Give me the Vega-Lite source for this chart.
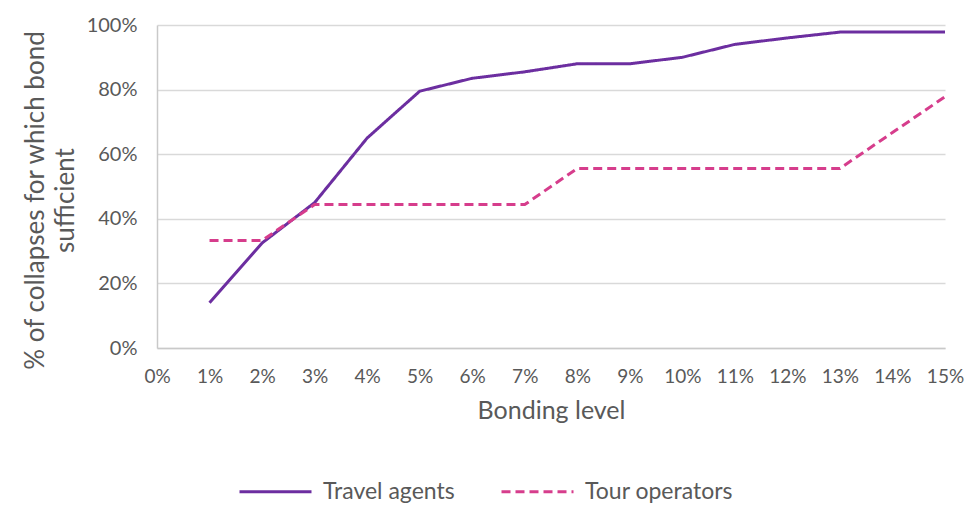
{
  "$schema": "https://vega.github.io/schema/vega-lite/v6.json",
  "width": 788,
  "height": 323,
  "autosize": "none",
  "padding": {"left": 157, "top": 25, "right": 21, "bottom": 157},
  "background": "white",
  "config": {
    "view": {"stroke": null},
    "font": "Lato",
    "axis": {"labelColor": "#595959", "titleColor": "#595959", "titleFontWeight": "normal", "labelFont": "Lato", "titleFont": "Lato"},
    "legend": {"labelColor": "#595959", "labelFont": "Lato"}
  },
  "data": {
    "values": [
      {"bond": 0.01, "value": 0.14, "series": "Travel agents"},
      {"bond": 0.02, "value": 0.325, "series": "Travel agents"},
      {"bond": 0.03, "value": 0.45, "series": "Travel agents"},
      {"bond": 0.04, "value": 0.65, "series": "Travel agents"},
      {"bond": 0.05, "value": 0.795, "series": "Travel agents"},
      {"bond": 0.06, "value": 0.835, "series": "Travel agents"},
      {"bond": 0.07, "value": 0.855, "series": "Travel agents"},
      {"bond": 0.08, "value": 0.88, "series": "Travel agents"},
      {"bond": 0.09, "value": 0.88, "series": "Travel agents"},
      {"bond": 0.10, "value": 0.90, "series": "Travel agents"},
      {"bond": 0.11, "value": 0.94, "series": "Travel agents"},
      {"bond": 0.12, "value": 0.96, "series": "Travel agents"},
      {"bond": 0.13, "value": 0.978, "series": "Travel agents"},
      {"bond": 0.14, "value": 0.978, "series": "Travel agents"},
      {"bond": 0.15, "value": 0.978, "series": "Travel agents"},
      {"bond": 0.01, "value": 0.333, "series": "Tour operators"},
      {"bond": 0.02, "value": 0.333, "series": "Tour operators"},
      {"bond": 0.03, "value": 0.444, "series": "Tour operators"},
      {"bond": 0.04, "value": 0.444, "series": "Tour operators"},
      {"bond": 0.05, "value": 0.444, "series": "Tour operators"},
      {"bond": 0.06, "value": 0.444, "series": "Tour operators"},
      {"bond": 0.07, "value": 0.444, "series": "Tour operators"},
      {"bond": 0.08, "value": 0.556, "series": "Tour operators"},
      {"bond": 0.09, "value": 0.556, "series": "Tour operators"},
      {"bond": 0.10, "value": 0.556, "series": "Tour operators"},
      {"bond": 0.11, "value": 0.556, "series": "Tour operators"},
      {"bond": 0.12, "value": 0.556, "series": "Tour operators"},
      {"bond": 0.13, "value": 0.556, "series": "Tour operators"},
      {"bond": 0.14, "value": 0.667, "series": "Tour operators"},
      {"bond": 0.15, "value": 0.778, "series": "Tour operators"}
    ]
  },
  "mark": {"type": "line", "strokeWidth": 3, "clip": false},
  "encoding": {
    "x": {
      "field": "bond", "type": "quantitative",
      "scale": {"domain": [0, 0.15], "nice": false, "zero": true},
      "axis": {
        "title": "Bonding level", "titleFontSize": 25, "titlePadding": 12,
        "values": [0,0.01,0.02,0.03,0.04,0.05,0.06,0.07,0.08,0.09,0.10,0.11,0.12,0.13,0.14,0.15],
        "format": ".0%", "labelFontSize": 19, "labelPadding": 19, "labelFlush": false, "labelOverlap": false,
        "ticks": false, "grid": false, "domain": true, "domainColor": "#c9c9c9", "domainWidth": 1.5
      }
    },
    "y": {
      "field": "value", "type": "quantitative",
      "scale": {"domain": [0, 1], "nice": false},
      "axis": {
        "title": ["% of collapses for which bond", "sufficient"], "titleFontSize": 26, "titleLineHeight": 30, "titlePadding": 8, "titleY": 175,
        "values": [0, 0.2, 0.4, 0.6, 0.8, 1], "format": ".0%", "labelFontSize": 20, "labelPadding": 20,
        "ticks": false, "grid": true, "gridColor": "#d9d9d9", "gridWidth": 1.5,
        "domain": true, "domainColor": "#c9c9c9", "domainWidth": 1.5
      }
    },
    "color": {
      "field": "series", "type": "nominal",
      "scale": {"domain": ["Travel agents", "Tour operators"], "range": ["#6C2EA0", "#D63D8C"]},
      "legend": {
        "title": null, "orient": "none", "direction": "horizontal", "legendX": 81, "legendY": 429,
        "symbolType": "stroke", "symbolSize": 5184, "symbolStrokeWidth": 3, "labelFontSize": 23, "labelOffset": 10, "columnPadding": 40
      }
    },
    "strokeDash": {
      "field": "series", "type": "nominal",
      "scale": {"domain": ["Travel agents", "Tour operators"], "range": [[1, 0], [9, 5]]},
      "legend": null
    }
  }
}
